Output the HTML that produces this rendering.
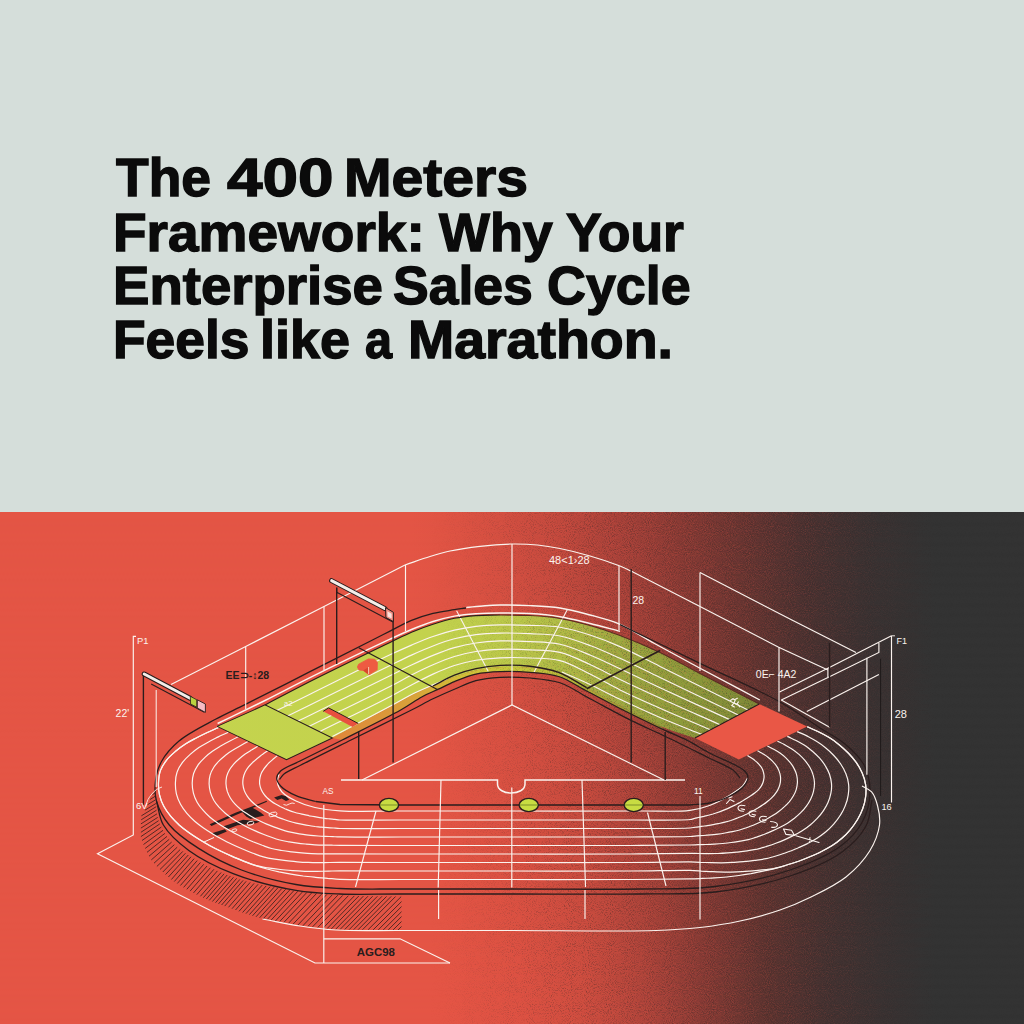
<!DOCTYPE html>
<html>
<head>
<meta charset="utf-8">
<title>The 400 Meters Framework</title>
<style>
html,body{margin:0;padding:0;}
body{width:1024px;height:1024px;overflow:hidden;background:#d5deda;font-family:"Liberation Sans",sans-serif;position:relative;}
.top{position:absolute;left:0;top:0;width:1024px;height:512px;background:#d5deda;}
h1{position:absolute;left:0;top:0;margin:0;font-weight:bold;font-size:54.0px;line-height:54.0px;color:#0b0b0b;white-space:nowrap;-webkit-text-stroke:1.4px #0b0b0b;}
h1 span{position:absolute;display:block;transform-origin:0 0;}
.art{position:absolute;left:0;top:512px;width:1024px;height:512px;display:block;}
.art text{font-family:"Liberation Sans",sans-serif;}
</style>
</head>
<body>
<div class="top">
<h1>
<span style="left:115.5px;top:150.3px;transform:scaleX(0.9895)">The</span>
<span style="left:227.2px;top:150.3px;transform:scaleX(1.1807)">400</span>
<span style="left:344.33px;top:150.3px;transform:scaleX(1.0562)">Meters</span>
<span style="left:112.94px;top:204.6px;transform:scaleX(1.0185)">Framework:</span>
<span style="left:438.5px;top:204.6px;transform:scaleX(0.9983)">Why</span>
<span style="left:566.3px;top:204.6px;transform:scaleX(0.9908)">Your</span>
<span style="left:112.97px;top:258.3px;transform:scaleX(1.0103)">Enterprise</span>
<span style="left:393.41px;top:258.3px;transform:scaleX(0.9913)">Sales</span>
<span style="left:546.61px;top:258.3px;transform:scaleX(0.9972)">Cycle</span>
<span style="left:112.64px;top:312.2px;transform:scaleX(0.988)">Feels</span>
<span style="left:260.3px;top:312.2px;transform:scaleX(0.9988)">like</span>
<span style="left:364.7px;top:312.2px;transform:scaleX(0.9)">a</span>
<span style="left:407.52px;top:312.2px;transform:scaleX(1.027)">Marathon.</span>
</h1>
</div>
<svg class="art" width="1024" height="512" viewBox="0 512 1024 512">
<defs>
<linearGradient id="bg" gradientUnits="userSpaceOnUse" x1="0" y1="0" x2="1024" y2="0">
<stop offset="0.0000" stop-color="#e45545"/>
<stop offset="0.4004" stop-color="#e45545"/>
<stop offset="0.4316" stop-color="#e05444"/>
<stop offset="0.4883" stop-color="#d55042"/>
<stop offset="0.5449" stop-color="#c44a3e"/>
<stop offset="0.6025" stop-color="#a8423a"/>
<stop offset="0.6602" stop-color="#8a3b35"/>
<stop offset="0.7207" stop-color="#6b3632"/>
<stop offset="0.7832" stop-color="#4c3231"/>
<stop offset="0.8477" stop-color="#3a3232"/>
<stop offset="0.9131" stop-color="#333333"/>
<stop offset="1.0000" stop-color="#333333"/>
</linearGradient>
<linearGradient id="bg2" gradientUnits="userSpaceOnUse" x1="0" y1="0" x2="1024" y2="0">
<stop offset="0.0000" stop-color="#e45545"/>
<stop offset="0.4395" stop-color="#e45545"/>
<stop offset="0.5098" stop-color="#dd5243"/>
<stop offset="0.5693" stop-color="#cf4e40"/>
<stop offset="0.6289" stop-color="#b0453b"/>
<stop offset="0.6885" stop-color="#863b35"/>
<stop offset="0.7480" stop-color="#5d3430"/>
<stop offset="0.8076" stop-color="#443231"/>
<stop offset="0.8672" stop-color="#383232"/>
<stop offset="0.9130" stop-color="#333333"/>
<stop offset="1.0000" stop-color="#333333"/>
</linearGradient>
<linearGradient id="vm" gradientUnits="userSpaceOnUse" x1="0" y1="512" x2="0" y2="1024">
<stop offset="0" stop-color="#000"/><stop offset="1" stop-color="#fff"/>
</linearGradient>
<mask id="vmask" maskUnits="userSpaceOnUse" x="0" y="511" width="1024" height="513"><rect x="0" y="511" width="1024" height="513" fill="url(#vm)"/></mask>
<linearGradient id="gg" gradientUnits="userSpaceOnUse" x1="0" y1="0" x2="1024" y2="0">
<stop offset="0" stop-color="#c5d54e"/>
<stop offset="0.42" stop-color="#c3d24d"/>
<stop offset="0.5" stop-color="#bbca4a"/>
<stop offset="0.55" stop-color="#b0bf46"/>
<stop offset="0.61" stop-color="#9cab40"/>
<stop offset="0.68" stop-color="#8b9a3a"/>
<stop offset="0.745" stop-color="#7a8937"/>
</linearGradient>
<linearGradient id="og" gradientUnits="userSpaceOnUse" x1="0" y1="0" x2="1024" y2="0">
<stop offset="0.32" stop-color="#e0843a"/>
<stop offset="0.40" stop-color="#d9a03a"/>
<stop offset="0.45" stop-color="#d2c038"/>
<stop offset="0.5" stop-color="#c6cc3c"/>
<stop offset="0.56" stop-color="#b4bb3a"/>
<stop offset="0.64" stop-color="#8a8f30"/>
<stop offset="0.7" stop-color="#6f6a2a"/>
</linearGradient>
<filter id="grainD" x="0" y="0" width="100%" height="100%" color-interpolation-filters="sRGB">
<feTurbulence type="fractalNoise" baseFrequency="1.05" numOctaves="2" seed="7"/>
<feColorMatrix type="matrix" values="0 0 0 0 0.16  0 0 0 0 0.13  0 0 0 0 0.13  1.05 0 0 0 -0.525"/>
</filter>
<filter id="grainL" x="0" y="0" width="100%" height="100%" color-interpolation-filters="sRGB">
<feTurbulence type="fractalNoise" baseFrequency="1.05" numOctaves="2" seed="7"/>
<feColorMatrix type="matrix" values="0 0 0 0 0.9  0 0 0 0 0.33  0 0 0 0 0.27  -1.05 0 0 0 0.525"/>
</filter>
<linearGradient id="gmg" gradientUnits="userSpaceOnUse" x1="0" y1="0" x2="1024" y2="0">
<stop offset="0.42" stop-color="#000"/><stop offset="0.56" stop-color="#fff"/><stop offset="0.8" stop-color="#fff"/><stop offset="0.93" stop-color="#222"/><stop offset="1" stop-color="#111"/>
</linearGradient>
<linearGradient id="gml" gradientUnits="userSpaceOnUse" x1="0" y1="0" x2="1024" y2="0">
<stop offset="0.45" stop-color="#000"/><stop offset="0.6" stop-color="#fff"/><stop offset="0.78" stop-color="#888"/><stop offset="0.9" stop-color="#000"/>
</linearGradient>
<mask id="gm" maskUnits="userSpaceOnUse" x="0" y="511" width="1024" height="513"><rect x="0" y="511" width="1024" height="513" fill="url(#gmg)"/></mask>
<mask id="gm2" maskUnits="userSpaceOnUse" x="0" y="511" width="1024" height="513"><rect x="0" y="511" width="1024" height="513" fill="url(#gml)"/></mask>
</defs>
<rect x="0" y="511" width="1024" height="513" fill="url(#bg)"/>
<rect x="0" y="511" width="1024" height="513" fill="url(#bg2)" mask="url(#vmask)"/>
<clipPath id="hc"><rect x="100" y="780" width="301.5" height="160"/></clipPath>
<path d="M155.2 793.0 L152.6 794.6 M155.3 796.2 L150.0 799.5 M155.6 799.8 L147.4 804.8 M155.9 803.5 L144.9 810.2 M156.2 806.7 L141.4 815.8 M156.5 810.2 L141.2 819.8 M157.0 813.8 L140.9 823.9 M157.7 817.4 L140.9 828.1 M158.6 820.7 L140.9 832.3 M159.8 823.9 L140.9 836.6 M161.3 827.1 L142.0 840.5 M163.0 830.3 L143.5 844.5 M164.9 833.4 L145.2 848.4 M167.0 836.4 L147.0 852.3 M169.2 839.3 L149.0 856.2 M171.6 842.1 L151.3 859.9 M174.3 844.7 L154.0 863.2 M177.2 847.2 L156.9 866.4 M180.2 849.5 L160.0 869.5 M182.8 851.4 L162.8 872.0 M185.5 853.2 L165.6 874.5 M188.3 855.0 L168.4 877.0 M191.0 856.8 L171.4 879.5 M194.1 858.7 L174.3 881.5 M197.2 860.6 L177.3 883.5 M200.4 862.5 L180.4 885.5 M203.7 864.3 L183.6 887.4 M207.0 866.0 L186.8 889.3 M210.4 867.7 L190.1 891.1 M213.9 869.3 L193.5 892.9 M217.4 870.9 L196.8 894.6 M221.1 872.5 L200.4 896.3 M224.1 873.8 L203.3 897.7 M227.2 875.0 L206.3 899.0 M230.3 876.1 L209.3 900.3 M233.5 877.3 L212.4 901.5 M236.7 878.3 L215.5 902.7 M239.9 879.4 L218.5 903.9 M243.1 880.4 L221.6 905.0 M246.2 881.3 L224.7 906.1 M250.2 882.4 L228.5 907.3 M254.1 883.4 L232.0 908.7 M258.1 884.3 L235.5 910.0 M262.2 885.1 L239.0 911.3 M266.2 885.9 L242.6 912.5 M270.2 886.6 L246.0 913.6 M274.1 887.2 L249.4 914.6 M277.8 887.9 L252.5 915.8 M281.7 888.6 L256.0 916.8 M285.6 889.3 L259.6 917.8 M289.7 890.0 L263.3 918.7 M293.8 890.7 L267.2 919.5 M297.8 891.3 L271.0 920.2 M302.5 891.9 L275.4 921.0 M306.9 892.4 L279.5 921.7 M311.6 893.0 L283.8 922.5 M316.5 893.5 L288.4 923.4 M321.7 894.0 L293.0 924.2 M326.9 894.4 L297.8 925.1 M332.3 894.8 L302.8 925.8 M337.8 895.2 L307.9 926.4 M342.7 895.4 L312.5 926.9 M348.4 895.7 L317.7 927.5 M354.3 895.9 L323.1 928.1 M358.8 896.0 L327.2 928.5 M363.4 896.1 L331.3 929.0 M368.0 896.2 L335.5 929.4 M372.7 896.2 L340.0 929.5 M377.4 896.3 L344.6 929.6 M382.0 896.3 L349.2 929.6 M386.6 896.4 L353.7 929.6 M391.2 896.4 L358.1 929.7 M395.6 896.5 L362.5 929.7 M401.3 896.5 L368.1 929.7 M406.5 896.6 L373.2 929.8 M411.5 896.6 L378.3 929.8 M416.6 896.6 L383.3 929.9 M421.5 896.6 L388.2 929.9 M426.5 896.6 L393.1 929.9 M431.4 896.6 L398.0 930.0 M436.4 896.5 L402.9 930.0 M441.3 896.5 L407.8 930.0 M446.3 896.5 L412.8 930.0" stroke="#33201e" stroke-width="0.82" fill="none" clip-path="url(#hc)"/>
<path d="M265.0 704.9 C280.0 697.1 292.8 690.2 310.0 681.5 C332.8 670.0 371.8 651.2 390.0 642.4 C399.4 637.9 404.3 635.3 411.5 632.2 C418.6 629.2 425.8 626.5 433.0 624.2 C440.1 621.9 447.2 619.7 454.4 618.3 C461.5 616.9 468.5 616.2 475.9 615.6 C483.7 615.0 491.5 615.0 500.0 615.0 C509.5 615.0 520.0 615.0 530.0 615.6 C540.0 616.2 550.1 616.8 560.0 618.4 C570.1 620.1 580.1 622.7 590.0 625.5 C600.1 628.3 609.4 631.4 620.0 635.4 C632.5 640.1 646.8 646.2 660.0 652.5 C673.5 658.9 685.3 665.9 700.0 673.5 C717.8 682.8 739.5 693.8 759.3 704.0 L694.9 738.0 C683.3 734.0 671.9 731.0 660.0 726.0 C646.9 720.5 632.7 712.6 620.0 706.0 C608.3 699.9 597.3 693.7 586.7 688.0 C576.9 682.8 568.3 676.4 558.6 673.0 C549.4 669.8 539.7 668.8 530.0 667.8 C520.2 666.8 509.4 666.8 500.0 667.3 C491.5 667.8 483.6 668.8 475.9 670.5 C468.5 672.1 461.5 674.5 454.4 677.0 C447.2 679.5 440.1 682.4 433.0 685.5 C425.8 688.6 418.6 691.9 411.5 695.5 C404.3 699.1 398.9 702.2 390.0 707.0 C375.4 714.8 350.6 728.8 332.4 738.0 C316.3 746.1 301.8 752.4 286.5 759.6 L217.1 726.4 Z" fill="url(#gg)"/>
<path d="M332.4 738.0 C351.6 727.7 375.4 714.8 390.0 707.0 C398.9 702.2 404.3 699.1 411.5 695.5 C418.6 691.9 425.8 688.6 433.0 685.5 C440.1 682.4 447.2 679.5 454.4 677.0 C461.5 674.5 468.5 672.1 475.9 670.5 C483.6 668.8 491.5 667.8 500.0 667.3 C509.4 666.8 520.2 666.8 530.0 667.8 C539.7 668.8 549.4 669.8 558.6 673.0 C568.3 676.4 576.9 682.8 586.7 688.0 C597.3 693.7 608.3 699.9 620.0 706.0 C632.7 712.6 646.7 719.3 660.0 726.0 L665.0 730.4 C653.7 724.9 639.2 718.0 631.0 714.0 C626.3 711.7 624.6 710.9 620.0 708.5 C611.9 704.3 597.3 696.5 586.7 691.0 C576.9 685.9 568.3 679.6 558.6 676.5 C549.3 673.5 539.7 673.1 530.0 672.3 C520.1 671.5 509.4 671.2 500.0 671.6 C491.5 671.9 483.6 672.4 475.9 674.1 C468.4 675.8 461.0 678.9 454.4 681.6 C448.6 684.0 443.7 686.7 438.3 689.2 C432.9 691.7 427.9 693.6 422.2 696.7 C415.4 700.3 409.8 704.9 400.7 710.0 C386.1 718.2 361.7 730.0 342.2 740.0 Z" fill="url(#og)"/>
<g mask="url(#gm)"><rect x="420" y="511" width="604" height="513" filter="url(#grainD)"/></g>
<g mask="url(#gm2)"><rect x="420" y="511" width="604" height="513" filter="url(#grainL)"/></g>
<path d="M694.9 738 L759.3 704 L807.2 726.4 L738.8 759.6Z" fill="#e95746"/>
<path d="M276.6 710.6 C287.7 705.1 296.5 700.9 310.0 694.2 C330.9 683.9 371.7 663.4 390.0 654.8 C399.4 650.4 404.3 648.2 411.5 645.1 C418.6 642.1 425.8 639.0 433.0 636.5 C440.1 634.0 447.2 631.8 454.4 630.1 C461.5 628.4 468.5 627.2 475.9 626.3 C483.7 625.4 491.5 625.1 500.0 624.9 C509.4 624.7 520.0 624.9 530.0 625.3 C540.0 625.7 550.1 625.6 560.0 627.2 C570.1 628.8 580.1 631.8 590.0 635.0 C600.1 638.3 609.4 641.9 620.0 646.6 C632.5 652.1 644.1 658.5 660.0 666.4 C683.6 678.1 718.7 695.5 748.0 710.0" fill="none" stroke="#fbf3ee" stroke-width="1.16" />
<path d="M287.6 716.0 C295.1 712.3 300.2 709.8 310.0 705.0 C328.5 695.9 371.8 674.4 390.0 665.5 C399.4 660.9 404.3 658.4 411.5 655.1 C418.6 651.9 425.8 648.7 433.0 646.0 C440.1 643.3 447.2 640.7 454.4 638.8 C461.5 636.9 468.5 635.5 475.9 634.6 C483.7 633.6 491.5 633.3 500.0 633.1 C509.4 632.9 520.0 633.2 530.0 633.7 C540.0 634.2 550.1 634.1 560.0 636.0 C570.1 638.0 580.1 641.8 590.0 645.5 C600.1 649.2 609.3 653.5 620.0 658.3 C632.4 663.9 644.4 670.0 660.0 677.5 C681.8 687.9 712.2 702.6 738.3 715.1" fill="none" stroke="#fbf3ee" stroke-width="1.16" />
<path d="M298.0 721.1 C302.0 719.1 304.2 718.0 310.0 715.2 C324.9 707.9 371.8 684.8 390.0 675.8 C399.4 671.1 404.3 668.5 411.5 665.1 C418.6 661.7 425.8 658.3 433.0 655.4 C440.1 652.5 447.2 649.7 454.4 647.6 C461.5 645.6 468.5 644.1 475.9 643.0 C483.7 641.8 491.5 641.2 500.0 640.9 C509.4 640.6 520.0 641.1 530.0 641.6 C540.0 642.1 550.1 642.0 560.0 644.2 C570.1 646.4 580.1 650.9 590.0 655.0 C600.1 659.1 609.3 663.8 620.0 668.8 C632.4 674.6 644.8 680.7 660.0 687.8 C680.0 697.1 706.5 709.0 729.7 719.6" fill="none" stroke="#fbf3ee" stroke-width="1.16" />
<path d="M308.9 726.5 C335.9 713.2 371.7 695.9 390.0 686.5 C399.5 681.6 404.3 678.6 411.5 675.0 C418.6 671.4 425.8 667.9 433.0 664.8 C440.1 661.7 447.2 658.7 454.4 656.5 C461.5 654.3 468.5 652.7 475.9 651.5 C483.7 650.2 491.5 649.6 500.0 649.3 C509.4 648.9 520.0 649.3 530.0 649.8 C540.0 650.3 550.2 650.0 560.0 652.4 C570.2 654.8 580.1 660.0 590.0 664.5 C600.1 669.0 609.2 674.2 620.0 679.4 C632.3 685.3 645.3 691.3 660.0 698.0 C677.9 706.2 700.0 715.8 720.0 724.7" fill="none" stroke="#fbf3ee" stroke-width="1.16" />
<path d="M319.6 731.7 C343.1 720.0 373.4 705.4 390.0 696.7 C399.3 691.8 404.3 688.7 411.5 684.9 C418.6 681.2 425.8 677.4 433.0 674.1 C440.1 670.9 447.2 667.8 454.4 665.5 C461.5 663.2 468.5 661.5 475.9 660.2 C483.7 658.9 491.5 658.2 500.0 657.8 C509.4 657.4 520.0 657.5 530.0 658.0 C540.0 658.5 550.2 658.1 560.0 660.6 C570.2 663.2 580.1 669.2 590.0 674.0 C600.1 678.9 609.2 684.6 620.0 689.9 C632.3 696.0 645.9 701.9 660.0 708.2 C675.8 715.2 693.6 722.6 710.4 729.8" fill="none" stroke="#fbf3ee" stroke-width="1.16" />
<path d="M562.0 672.0 C571.3 676.2 580.5 680.1 590.0 684.5 C599.9 689.1 609.2 694.2 620.0 699.3 C632.3 705.1 646.5 711.7 660.0 717.5 C673.7 723.4 687.9 728.8 701.8 734.4" fill="none" stroke="#fbf3ee" stroke-width="1.16" />
<path d="M332.4 736.5 C351.6 726.4 375.5 714.1 390.0 706.3 C398.9 701.5 404.3 698.1 411.5 694.5 C418.6 691.0 426.6 687.7 433.0 684.9 C438.2 682.7 442.3 681.0 447.0 679.0" fill="none" stroke="#fbf3ee" stroke-width="1.16" />
<path d="M466.3 607.5 C472.5 606.9 479.1 606.1 485.0 605.7 C490.3 605.3 494.1 605.1 500.0 605.0 C508.3 604.9 520.0 605.1 530.0 605.6 C540.0 606.1 550.1 606.5 560.0 608.0 C570.1 609.6 580.2 612.4 590.0 615.0 C599.6 617.6 608.6 619.6 618.4 623.7 C630.0 628.6 641.8 636.6 654.5 643.5 C668.7 651.2 683.5 659.3 699.6 668.0 C718.2 678.0 739.7 689.3 759.8 700.0" fill="none" stroke="#fbf3ee" stroke-width="1.39" />
<path d="M217.6 723.5 C233.4 715.8 249.4 708.2 265.0 700.5 C280.2 692.9 292.8 686.1 310.0 677.6 C332.8 666.3 371.8 647.7 390.0 639.2 C399.4 634.8 404.3 632.5 411.5 629.5 C418.6 626.6 425.8 623.7 433.0 621.5 C440.1 619.3 447.2 617.4 454.4 616.1 C461.5 614.8 468.5 614.2 475.9 613.7 C483.7 613.2 491.5 613.0 500.0 613.0 C509.5 613.0 520.0 613.0 530.0 613.6 C540.0 614.2 550.0 615.1 560.0 616.7 C570.0 618.4 580.0 621.1 590.0 623.5 C600.0 625.9 610.0 628.7 620.0 631.3" fill="none" stroke="#fbf3ee" stroke-width="1.46" />
<path d="M456.6 610.7 L488.3 671.4" fill="none" stroke="#fbf3ee" stroke-width="1.08" />
<path d="M567.4 609.6 L534.0 672.3" fill="none" stroke="#fbf3ee" stroke-width="1.08" />
<path d="M209.7 824.2 L235.4 812.8 L266.6 800.8 L267 801.8 L236 815 L211.5 826Z" fill="#2a1d1d"/>
<path d="M241.9 811.7 L251.6 807.2 L260.2 812.2 L264.4 815.6 L250.5 818.9 L246.2 816.5Z" fill="#2a1d1d"/>
<path d="M223.6 826.2 L243 819.7 L260.2 821.4 L255.9 823.2 L237.6 825.3 L227.9 829Z" fill="#2a1d1d"/>
<path d="M211.8 833.2 L224.7 829.3 L226.9 831.6 L216.1 836Z" fill="#2a1d1d"/>
<path d="M274.1 797.6 L281.6 795 L286 796.2 L289.2 799.8 L286 801 L281.6 798.4 L277.3 800Z" fill="#2a1d1d"/>
<path d="M277.5 755.5 C276.2 756.6 274.9 757.7 273.6 758.8 C272.3 759.9 270.9 761.0 269.7 762.2 C268.5 763.4 267.3 764.7 266.2 766.0 C265.1 767.3 264.0 768.6 263.1 770.1 C262.1 771.5 261.3 773.0 260.8 774.6 C260.2 776.3 259.9 778.0 259.7 779.7 C259.5 781.4 259.5 783.1 259.8 784.8 C260.0 786.5 260.6 788.2 261.3 789.7 C262.0 791.3 262.9 792.7 263.9 794.1 C264.9 795.5 266.1 796.8 267.3 798.0 C268.5 799.2 269.9 800.2 271.3 801.2 C272.6 802.3 274.1 803.2 275.6 804.0 C277.1 804.9 278.6 805.7 280.1 806.5 C281.6 807.2 283.2 808.0 284.8 808.7 C286.3 809.3 287.9 810.0 289.5 810.6 C291.2 811.2 292.8 811.7 294.4 812.2 C296.1 812.7 297.7 813.1 299.4 813.5 C301.1 813.9 302.7 814.3 304.4 814.7 C306.1 815.1 307.8 815.4 309.4 815.8 C311.1 816.1 312.8 816.4 314.5 816.7 C316.2 817.1 317.9 817.4 319.6 817.6 C321.2 817.9 323.0 818.1 324.7 818.3 C326.4 818.6 328.1 818.7 329.8 818.9 C331.5 819.1 333.2 819.2 334.9 819.4 C336.6 819.6 337.4 819.9 340.0 820.0 C349.0 820.5 376.9 820.0 400.0 820.0 C431.6 820.0 474.2 820.0 512.0 820.0 C550.8 820.0 597.3 820.1 630.0 820.0 C653.4 819.9 681.4 820.6 690.0 819.5 C692.4 819.2 693.1 818.7 694.6 818.4 C696.1 818.0 697.7 817.7 699.2 817.3 C700.7 817.0 702.3 816.6 703.8 816.3 C705.4 815.9 706.9 815.6 708.4 815.2 C710.0 814.8 711.5 814.4 713.0 814.0 C714.5 813.5 716.0 813.0 717.5 812.5 C719.0 812.0 720.5 811.5 721.9 810.9 C723.4 810.3 724.9 809.7 726.3 809.1 C727.8 808.5 729.2 807.8 730.6 807.1 C732.0 806.5 733.5 805.8 734.9 805.1 C736.3 804.4 737.7 803.6 739.1 802.9 C740.4 802.1 741.8 801.3 743.2 800.5 C744.5 799.7 745.9 798.9 747.2 798.1 C748.5 797.2 749.9 796.4 751.2 795.5 C752.5 794.6 753.8 793.7 755.0 792.8 C756.3 791.8 757.5 790.8 758.6 789.6 C759.7 788.5 760.6 787.2 761.4 785.9 C762.2 784.5 762.9 783.0 763.3 781.5 C763.7 780.0 764.0 778.4 764.1 776.9 C764.1 775.3 763.8 773.7 763.4 772.2 C763.0 770.7 762.5 769.2 761.7 767.8 C760.9 766.5 759.9 765.3 758.8 764.1 C757.7 762.9 756.6 761.9 755.3 760.9 C754.1 759.9 752.8 759.0 751.5 758.1 C750.2 757.2 748.8 756.4 747.5 755.6" fill="none" stroke="#fbf3ee" stroke-width="1.19" />
<path d="M267.7 750.8 C266.0 752.0 264.2 753.2 262.5 754.4 C260.8 755.7 259.1 756.9 257.5 758.2 C255.8 759.5 254.3 760.9 252.8 762.3 C251.3 763.8 249.8 765.3 248.5 766.9 C247.2 768.6 246.0 770.3 245.1 772.2 C244.2 774.1 243.5 776.1 243.2 778.1 C242.8 780.2 242.7 782.4 242.9 784.4 C243.1 786.5 243.6 788.6 244.3 790.6 C245.0 792.5 246.1 794.4 247.2 796.1 C248.4 797.9 249.8 799.5 251.2 801.0 C252.7 802.6 254.3 803.9 256.0 805.2 C257.6 806.5 259.4 807.7 261.2 808.8 C263.0 809.9 264.8 811.0 266.7 812.0 C268.5 813.0 270.4 813.9 272.3 814.8 C274.2 815.7 276.2 816.6 278.1 817.4 C280.1 818.1 282.1 818.9 284.1 819.5 C286.1 820.2 288.1 820.9 290.1 821.5 C292.1 822.1 294.1 822.6 296.2 823.1 C298.3 823.6 300.4 824.0 302.5 824.4 C304.6 824.8 306.7 825.2 308.8 825.5 C310.9 825.9 313.0 826.2 315.1 826.5 C317.2 826.7 319.3 827.0 321.4 827.2 C323.5 827.4 325.5 827.5 327.6 827.6 C329.7 827.8 331.8 827.9 333.8 828.0 C335.9 828.2 336.9 828.4 340.0 828.5 C349.7 828.8 376.9 828.5 400.0 828.5 C431.6 828.5 474.2 828.5 512.0 828.5 C550.8 828.5 597.3 828.6 630.0 828.5 C653.4 828.4 680.6 828.7 690.0 828.0 C692.9 827.8 693.8 827.4 695.7 827.2 C697.6 826.9 699.6 826.7 701.5 826.4 C703.4 826.1 705.4 825.9 707.3 825.6 C709.3 825.3 711.2 825.0 713.2 824.6 C715.2 824.3 717.1 823.9 719.1 823.5 C721.0 823.1 723.0 822.6 724.9 822.1 C726.9 821.6 728.9 821.1 730.8 820.5 C732.7 819.8 734.5 819.1 736.4 818.4 C738.2 817.7 740.1 816.9 741.9 816.2 C743.8 815.4 745.6 814.5 747.4 813.7 C749.2 812.8 751.0 811.9 752.7 811.0 C754.5 810.1 756.2 809.1 757.9 808.1 C759.6 807.0 761.3 805.9 762.9 804.8 C764.6 803.7 766.2 802.5 767.7 801.2 C769.2 800.0 770.7 798.7 772.1 797.3 C773.5 795.9 774.8 794.4 775.9 792.8 C777.1 791.2 778.1 789.5 778.8 787.7 C779.5 785.9 780.1 784.0 780.4 782.1 C780.6 780.2 780.7 778.1 780.4 776.2 C780.2 774.3 779.6 772.4 778.9 770.6 C778.2 768.7 777.2 767.0 776.1 765.4 C775.0 763.7 773.6 762.3 772.2 760.9 C770.8 759.5 769.2 758.2 767.7 757.0 C766.1 755.8 764.4 754.8 762.7 753.7 C761.0 752.7 759.2 751.8 757.5 750.8" fill="none" stroke="#fbf3ee" stroke-width="1.19" />
<path d="M257.8 746.2 C255.7 747.5 253.6 748.7 251.5 750.1 C249.4 751.4 247.2 752.7 245.2 754.1 C243.2 755.6 241.2 757.1 239.3 758.7 C237.4 760.3 235.5 762.0 233.9 763.8 C232.3 765.7 230.7 767.6 229.5 769.7 C228.2 771.9 227.2 774.2 226.6 776.6 C226.1 779.0 225.9 781.6 226.0 784.1 C226.1 786.5 226.6 789.0 227.3 791.4 C228.1 793.8 229.2 796.1 230.5 798.2 C231.8 800.3 233.4 802.3 235.1 804.1 C236.8 806.0 238.7 807.6 240.6 809.2 C242.6 810.8 244.7 812.2 246.8 813.6 C248.8 815.0 251.0 816.3 253.2 817.5 C255.4 818.7 257.6 819.9 259.9 821.0 C262.1 822.1 264.4 823.2 266.7 824.1 C269.0 825.1 271.3 826.0 273.7 826.9 C276.0 827.8 278.4 828.6 280.8 829.4 C283.2 830.2 285.5 831.0 288.0 831.6 C290.5 832.2 293.0 832.7 295.6 833.1 C298.1 833.6 300.6 834.0 303.1 834.3 C305.6 834.7 308.1 835.0 310.6 835.3 C313.1 835.6 315.6 835.8 318.1 836.0 C320.6 836.2 323.0 836.3 325.5 836.4 C327.9 836.5 330.4 836.5 332.8 836.6 C335.2 836.7 336.4 836.9 340.0 836.9 C350.3 837.2 376.9 837.0 400.0 837.0 C431.6 837.0 474.2 837.0 512.0 837.0 C550.8 837.0 597.3 837.1 630.0 837.0 C653.4 836.9 679.9 836.9 690.0 836.5 C693.4 836.3 694.5 836.1 696.8 835.9 C699.1 835.8 701.5 835.6 703.8 835.5 C706.1 835.3 708.5 835.1 710.8 834.9 C713.2 834.7 715.6 834.4 718.0 834.1 C720.4 833.8 722.8 833.4 725.1 833.0 C727.6 832.6 730.0 832.2 732.4 831.7 C734.8 831.2 737.2 830.7 739.6 830.0 C741.9 829.4 744.2 828.5 746.5 827.7 C748.7 826.9 751.0 826.1 753.2 825.2 C755.5 824.3 757.7 823.3 759.9 822.3 C762.1 821.3 764.2 820.3 766.4 819.2 C768.5 818.0 770.7 816.9 772.7 815.6 C774.8 814.3 776.8 813.0 778.7 811.5 C780.6 810.1 782.5 808.6 784.2 806.9 C786.0 805.3 787.6 803.6 789.2 801.8 C790.7 800.0 792.1 798.1 793.3 796.0 C794.5 794.0 795.5 791.8 796.2 789.6 C796.8 787.3 797.3 784.9 797.4 782.6 C797.5 780.3 797.3 777.9 796.8 775.6 C796.3 773.3 795.4 771.0 794.3 768.9 C793.3 766.8 792.0 764.8 790.5 762.9 C789.1 761.0 787.3 759.3 785.6 757.6 C783.8 756.0 781.9 754.5 780.0 753.1 C778.0 751.7 775.9 750.5 773.8 749.3 C771.7 748.1 769.5 747.1 767.4 746.0" fill="none" stroke="#fbf3ee" stroke-width="1.19" />
<path d="M248.0 741.5 C245.5 742.9 242.9 744.3 240.4 745.7 C237.9 747.1 235.4 748.5 233.0 750.1 C230.5 751.6 228.1 753.2 225.8 755.0 C223.6 756.8 221.3 758.6 219.3 760.7 C217.3 762.7 215.3 764.9 213.8 767.3 C212.3 769.7 210.9 772.3 210.1 775.1 C209.3 777.8 209.1 780.8 209.1 783.7 C209.2 786.5 209.6 789.5 210.4 792.3 C211.2 795.0 212.4 797.7 213.8 800.2 C215.3 802.7 217.1 805.0 219.0 807.2 C221.0 809.3 223.1 811.3 225.3 813.2 C227.5 815.1 229.9 816.8 232.3 818.4 C234.7 820.0 237.2 821.5 239.7 823.0 C242.3 824.5 244.8 825.9 247.4 827.2 C250.0 828.5 252.6 829.7 255.3 830.9 C257.9 832.1 260.6 833.2 263.3 834.3 C266.0 835.4 268.8 836.4 271.5 837.3 C274.2 838.3 277.0 839.3 279.8 840.0 C282.7 840.8 285.7 841.3 288.6 841.8 C291.6 842.3 294.5 842.8 297.4 843.1 C300.3 843.5 303.3 843.8 306.2 844.1 C309.1 844.4 311.9 844.6 314.8 844.8 C317.7 845.0 320.5 845.1 323.3 845.1 C326.1 845.2 329.0 845.2 331.7 845.2 C334.5 845.3 336.0 845.4 340.0 845.4 C350.8 845.5 376.9 845.5 400.0 845.5 C431.6 845.5 474.2 845.5 512.0 845.5 C550.8 845.5 597.3 845.6 630.0 845.5 C653.4 845.4 679.3 845.2 690.0 845.0 C693.9 844.9 695.3 844.8 698.0 844.7 C700.6 844.6 703.4 844.6 706.1 844.5 C708.8 844.5 711.6 844.4 714.3 844.2 C717.1 844.0 719.9 843.8 722.7 843.5 C725.6 843.2 728.4 842.9 731.2 842.5 C734.1 842.2 736.9 841.7 739.8 841.2 C742.7 840.7 745.6 840.3 748.4 839.6 C751.2 838.9 753.9 837.9 756.5 837.1 C759.2 836.2 761.9 835.2 764.5 834.2 C767.2 833.2 769.8 832.1 772.4 830.9 C775.0 829.8 777.5 828.6 780.1 827.3 C782.6 826.0 785.1 824.7 787.5 823.2 C789.9 821.7 792.2 820.0 794.4 818.3 C796.6 816.5 798.7 814.7 800.7 812.7 C802.7 810.7 804.6 808.5 806.2 806.3 C807.9 804.1 809.4 801.7 810.6 799.2 C811.9 796.7 812.9 794.1 813.5 791.4 C814.2 788.7 814.5 785.9 814.5 783.1 C814.4 780.4 813.9 777.6 813.1 774.9 C812.4 772.3 811.2 769.7 809.8 767.3 C808.4 764.8 806.7 762.6 804.9 760.4 C803.1 758.3 801.1 756.3 799.0 754.4 C796.9 752.6 794.6 750.8 792.3 749.2 C789.9 747.6 787.4 746.3 785.0 744.9 C782.5 743.6 779.9 742.4 777.4 741.2" fill="none" stroke="#fbf3ee" stroke-width="1.19" />
<path d="M238.2 736.8 C235.2 738.3 232.3 739.8 229.4 741.3 C226.5 742.8 223.5 744.4 220.7 746.0 C217.9 747.7 215.0 749.4 212.4 751.3 C209.7 753.2 207.1 755.3 204.7 757.6 C202.4 759.8 200.0 762.2 198.1 764.8 C196.3 767.5 194.6 770.5 193.6 773.5 C192.6 776.6 192.3 780.0 192.2 783.3 C192.2 786.6 192.6 789.9 193.4 793.1 C194.2 796.3 195.6 799.4 197.1 802.2 C198.7 805.1 200.8 807.7 203.0 810.2 C205.1 812.7 207.5 815.0 210.0 817.2 C212.5 819.4 215.2 821.3 217.9 823.2 C220.6 825.1 223.5 826.8 226.3 828.5 C229.1 830.2 232.0 831.8 235.0 833.4 C237.9 834.9 240.9 836.3 243.9 837.7 C246.9 839.1 249.9 840.4 253.0 841.7 C256.0 842.9 259.1 844.1 262.2 845.3 C265.3 846.4 268.4 847.6 271.6 848.5 C274.9 849.4 278.3 849.9 281.7 850.5 C285.0 851.1 288.4 851.5 291.7 851.9 C295.1 852.4 298.4 852.7 301.7 852.9 C305.0 853.2 308.3 853.5 311.5 853.6 C314.8 853.8 318.0 853.8 321.2 853.9 C324.4 853.9 327.5 853.9 330.7 853.9 C333.8 853.9 335.6 853.9 340.0 853.9 C351.3 853.9 376.9 854.0 400.0 854.0 C431.6 854.0 474.2 854.0 512.0 854.0 C550.8 854.0 597.3 854.2 630.0 854.0 C653.4 853.9 678.8 853.5 690.0 853.4 C694.4 853.4 696.0 853.5 699.1 853.5 C702.2 853.5 705.3 853.6 708.4 853.6 C711.5 853.6 714.7 853.6 717.9 853.5 C721.1 853.4 724.3 853.2 727.5 852.9 C730.8 852.7 734.0 852.4 737.3 852.1 C740.6 851.7 743.9 851.3 747.2 850.8 C750.6 850.3 754.0 849.9 757.3 849.2 C760.5 848.4 763.5 847.4 766.6 846.4 C769.7 845.4 772.8 844.4 775.8 843.2 C778.9 842.1 781.9 840.9 784.9 839.6 C787.9 838.3 790.8 836.9 793.7 835.4 C796.6 834.0 799.5 832.4 802.2 830.7 C805.0 829.0 807.7 827.1 810.2 825.0 C812.6 823.0 815.0 820.7 817.2 818.4 C819.4 816.0 821.5 813.5 823.3 810.8 C825.1 808.2 826.7 805.4 828.0 802.4 C829.3 799.5 830.3 796.4 830.9 793.2 C831.5 790.1 831.8 786.8 831.5 783.6 C831.3 780.5 830.5 777.3 829.5 774.3 C828.4 771.3 826.9 768.3 825.2 765.6 C823.6 762.9 821.5 760.3 819.4 757.9 C817.2 755.5 814.8 753.3 812.4 751.2 C809.9 749.1 807.3 747.1 804.6 745.3 C801.9 743.6 799.0 742.0 796.1 740.5 C793.2 739.1 790.2 737.8 787.3 736.4" fill="none" stroke="#fbf3ee" stroke-width="1.19" />
<path d="M228.3 732.2 C225.0 733.8 221.6 735.3 218.3 736.9 C215.0 738.6 211.7 740.2 208.5 742.0 C205.2 743.8 202.0 745.6 198.9 747.6 C195.9 749.7 192.9 752.0 190.2 754.4 C187.4 756.9 184.7 759.5 182.5 762.4 C180.3 765.3 178.2 768.6 177.1 772.0 C175.9 775.4 175.5 779.3 175.4 782.9 C175.3 786.6 175.6 790.4 176.4 793.9 C177.3 797.5 178.7 801.0 180.5 804.3 C182.2 807.5 184.5 810.5 186.9 813.3 C189.3 816.1 191.9 818.7 194.7 821.2 C197.5 823.6 200.5 825.9 203.5 828.0 C206.5 830.1 209.7 832.1 212.8 834.0 C216.0 836.0 219.2 837.8 222.5 839.5 C225.8 841.3 229.1 842.9 232.4 844.5 C235.8 846.1 239.2 847.6 242.6 849.0 C246.0 850.5 249.4 851.9 252.9 853.2 C256.4 854.5 259.8 855.9 263.4 856.9 C267.0 857.9 271.0 858.6 274.7 859.2 C278.5 859.8 282.3 860.3 286.1 860.7 C289.8 861.2 293.5 861.5 297.2 861.8 C300.9 862.1 304.6 862.3 308.2 862.4 C311.9 862.6 315.5 862.6 319.1 862.6 C322.6 862.6 326.1 862.5 329.6 862.5 C333.1 862.4 335.1 862.4 340.0 862.4 C351.7 862.3 376.9 862.5 400.0 862.5 C431.6 862.5 474.2 862.5 512.0 862.5 C550.8 862.5 597.3 862.7 630.0 862.5 C653.4 862.4 678.3 861.8 690.0 861.9 C694.8 862.0 696.8 862.1 700.2 862.3 C703.7 862.4 707.2 862.6 710.7 862.7 C714.2 862.8 717.8 862.8 721.4 862.8 C725.0 862.7 728.6 862.6 732.3 862.4 C736.0 862.2 739.7 861.9 743.4 861.6 C747.1 861.3 750.9 860.9 754.7 860.4 C758.5 859.9 762.4 859.5 766.1 858.7 C769.7 857.9 773.2 856.8 776.7 855.7 C780.2 854.6 783.7 853.5 787.1 852.2 C790.6 851.0 794.0 849.6 797.4 848.2 C800.7 846.7 804.1 845.2 807.4 843.6 C810.6 841.9 813.9 840.2 817.0 838.2 C820.1 836.3 823.1 834.1 825.9 831.8 C828.7 829.4 831.3 826.8 833.7 824.1 C836.1 821.4 838.4 818.4 840.3 815.3 C842.3 812.3 844.0 809.0 845.3 805.6 C846.7 802.2 847.7 798.7 848.2 795.1 C848.8 791.5 849.0 787.8 848.6 784.2 C848.2 780.6 847.2 777.0 845.8 773.6 C844.5 770.2 842.7 767.0 840.7 764.0 C838.7 760.9 836.3 758.1 833.8 755.5 C831.3 752.8 828.6 750.3 825.8 748.0 C822.9 745.6 820.0 743.4 816.9 741.5 C813.8 739.5 810.5 737.8 807.3 736.1 C804.0 734.5 800.6 733.1 797.2 731.6" fill="none" stroke="#fbf3ee" stroke-width="1.19" />
<path d="M218.5 727.5 C214.8 729.2 211.0 730.8 207.3 732.5 C203.5 734.3 199.8 736.1 196.2 738.0 C192.6 739.9 188.9 741.7 185.4 744.0 C182.0 746.2 178.7 748.7 175.6 751.3 C172.5 754.0 169.3 756.7 166.8 759.9 C164.3 763.1 161.9 766.7 160.5 770.4 C159.1 774.2 158.7 778.5 158.5 782.5 C158.3 786.6 158.6 790.8 159.5 794.8 C160.4 798.7 161.9 802.7 163.8 806.3 C165.7 809.9 168.2 813.2 170.8 816.4 C173.4 819.5 176.4 822.4 179.4 825.2 C182.5 827.9 185.8 830.4 189.1 832.8 C192.4 835.2 195.9 837.4 199.4 839.5 C202.9 841.7 206.4 843.7 210.0 845.7 C213.7 847.7 217.3 849.5 221.0 851.3 C224.7 853.1 228.5 854.8 232.2 856.4 C236.0 858.1 239.8 859.6 243.6 861.1 C247.4 862.6 251.2 864.3 255.2 865.4 C259.2 866.5 263.6 867.2 267.8 867.9 C272.0 868.6 276.2 869.1 280.4 869.5 C284.5 870.0 288.7 870.3 292.8 870.6 C296.9 870.9 300.9 871.1 305.0 871.3 C309.0 871.4 312.9 871.4 316.9 871.4 C320.8 871.3 324.7 871.2 328.6 871.1 C332.4 871.0 334.7 870.9 340.0 870.8 C352.1 870.7 376.9 871.0 400.0 871.0 C431.6 871.0 474.2 871.0 512.0 871.0 C550.8 871.0 597.3 871.2 630.0 871.0 C653.4 870.9 677.9 870.1 690.0 870.4 C695.3 870.5 697.5 870.8 701.3 871.1 C705.2 871.3 709.0 871.6 712.9 871.7 C716.9 871.9 720.9 872.1 724.9 872.1 C728.9 872.1 733.0 872.0 737.0 871.8 C741.2 871.7 745.3 871.4 749.5 871.1 C753.7 870.8 757.9 870.4 762.1 869.9 C766.4 869.5 770.8 869.1 775.0 868.3 C779.0 867.5 782.9 866.2 786.8 865.0 C790.7 863.9 794.6 862.6 798.5 861.3 C802.3 859.9 806.1 858.4 809.9 856.8 C813.6 855.2 817.4 853.6 821.0 851.7 C824.7 849.9 828.3 848.0 831.8 845.8 C835.2 843.6 838.5 841.2 841.6 838.5 C844.7 835.9 847.6 832.9 850.2 829.8 C852.9 826.7 855.3 823.3 857.4 819.8 C859.4 816.3 861.3 812.6 862.7 808.8 C864.1 805.0 865.1 800.9 865.6 796.9 C866.1 792.9 866.2 788.7 865.6 784.7 C865.1 780.7 863.8 776.7 862.2 773.0 C860.6 769.2 858.5 765.6 856.2 762.3 C853.8 759.0 851.0 755.9 848.2 753.0 C845.4 750.1 842.3 747.3 839.1 744.7 C836.0 742.2 832.7 739.7 829.2 737.6 C825.7 735.4 822.1 733.6 818.4 731.8 C814.8 730.0 810.9 728.5 807.2 726.8" fill="none" stroke="#fbf3ee" stroke-width="1.19" />
<path d="M218.5 727.5 C214.8 729.2 211.0 730.8 207.3 732.5 C203.5 734.3 199.8 736.1 196.2 738.0 C192.6 739.9 188.9 741.7 185.4 744.0 C182.0 746.2 178.7 748.7 175.6 751.3 C172.5 754.0 169.3 756.7 166.8 759.9 C164.3 763.1 161.9 766.7 160.5 770.4 C159.1 774.2 158.7 778.5 158.5 782.5 C158.3 786.6 158.6 790.8 159.5 794.8 C160.4 798.7 161.9 802.7 163.8 806.3 C165.7 809.9 168.2 813.2 170.8 816.4 C173.4 819.5 176.4 822.4 179.4 825.2 C182.5 827.9 185.8 830.4 189.1 832.8 C192.4 835.2 195.9 837.4 199.4 839.5 C202.9 841.7 206.4 843.7 210.0 845.7 C213.7 847.7 217.3 849.5 221.0 851.3 C224.7 853.1 228.5 854.8 232.2 856.4 C236.0 858.1 239.8 859.6 243.6 861.1 C247.4 862.6 251.3 864.1 255.2 865.4 C259.0 866.7 263.0 867.9 266.9 869.0 C270.9 870.0 274.9 870.9 278.9 871.8 C282.9 872.6 287.0 873.4 291.0 874.1 C295.1 874.7 299.1 875.4 303.2 876.0 C307.3 876.5 311.4 876.9 315.4 877.3 C319.5 877.7 323.6 877.9 327.7 878.3 C331.8 878.6 334.4 879.1 340.0 879.3 C352.5 879.8 376.9 879.5 400.0 879.5 C431.6 879.6 474.2 879.5 512.0 879.5 C550.8 879.5 597.3 879.7 630.0 879.5 C653.4 879.4 677.6 879.2 690.0 878.9 C695.6 878.8 698.2 878.6 702.3 878.4 C706.3 878.2 710.4 878.2 714.5 877.9 C718.6 877.7 722.7 877.4 726.7 877.0 C730.8 876.6 734.9 876.1 738.9 875.5 C743.0 874.9 747.0 874.3 751.0 873.6 C755.0 872.8 759.0 872.0 763.0 871.1 C767.0 870.3 771.0 869.3 775.0 868.3 C778.9 867.3 782.9 866.2 786.8 865.0 C790.7 863.9 794.6 862.6 798.5 861.3 C802.3 859.9 806.1 858.4 809.9 856.8 C813.6 855.2 817.4 853.6 821.0 851.7 C824.7 849.9 828.3 848.0 831.8 845.8 C835.2 843.6 838.5 841.2 841.6 838.5 C844.7 835.9 847.6 832.9 850.2 829.8 C852.9 826.7 855.3 823.3 857.4 819.8 C859.4 816.3 861.3 812.6 862.7 808.8 C864.1 805.0 865.1 800.9 865.6 796.9 C866.1 792.9 866.2 788.7 865.6 784.7 C865.1 780.7 863.8 776.7 862.2 773.0 C860.6 769.2 858.5 765.6 856.2 762.3 C853.8 759.0 851.0 755.9 848.2 753.0 C845.4 750.1 842.3 747.3 839.1 744.7 C836.0 742.2 832.7 739.7 829.2 737.6 C825.7 735.4 822.1 733.6 818.4 731.8 C814.8 730.0 810.9 728.5 807.2 726.8" fill="none" stroke="#fbf3ee" stroke-width="1.19" />
<path d="M279.0 774.0 C278.4 776.7 277.0 779.2 277.3 782.0 C277.7 785.2 279.4 789.1 282.0 792.0 C285.2 795.6 290.8 798.5 296.0 801.0 C301.7 803.8 308.1 805.9 315.0 807.5 C322.7 809.3 329.8 810.1 340.0 810.8 C355.7 811.9 376.9 811.0 400.0 811.0 C431.6 811.1 473.4 811.0 512.0 811.0 C553.2 811.0 607.2 811.2 640.0 811.0 C660.5 810.9 677.3 812.1 690.0 810.4 C698.1 809.4 703.1 807.9 709.5 805.5 C716.1 803.0 723.2 799.2 729.0 795.7 C734.1 792.6 739.5 789.4 742.7 786.0 C745.1 783.4 746.0 780.7 747.6 778.0" fill="none" stroke="#fbf3ee" stroke-width="1.16" />
<path d="M466.0 608.0 C462.1 608.6 458.8 609.0 454.4 609.7 C448.3 610.7 440.1 611.6 433.0 613.4 C425.8 615.2 418.6 617.5 411.5 620.4 C404.2 623.4 396.8 627.7 390.0 631.1 C383.9 634.2 380.1 636.1 372.5 640.0 C358.1 647.3 331.0 661.1 310.0 671.7 C288.7 682.5 262.9 695.7 245.5 704.4 C233.8 710.3 226.3 713.4 216.0 719.0 C204.2 725.4 188.6 732.9 179.0 741.0 C171.4 747.4 165.4 754.4 161.5 761.5 C158.2 767.5 156.5 773.5 155.6 780.0 C154.7 786.8 154.6 794.4 156.6 801.5 C158.8 809.4 163.2 817.7 169.3 825.0 C176.5 833.6 187.5 841.3 198.6 848.4 C211.2 856.5 226.0 864.1 241.5 870.0 C258.3 876.4 278.7 881.4 296.0 884.5 C311.3 887.2 324.2 887.7 340.0 888.5 C358.4 889.4 376.9 888.9 400.0 889.0 C431.6 889.1 473.4 889.0 512.0 889.0 C553.2 889.0 603.0 889.6 640.0 889.0 C668.3 888.5 690.1 889.6 715.0 886.5 C740.1 883.3 767.9 877.5 790.0 870.0 C808.7 863.6 827.4 855.8 840.0 846.5 C849.7 839.4 857.0 831.7 862.0 822.5 C866.9 813.5 869.8 801.9 870.0 792.0 C870.2 782.7 868.1 773.0 864.0 765.0 C859.8 756.9 852.2 750.1 845.0 744.0 C837.6 737.7 829.3 734.0 820.0 728.0 C808.2 720.4 796.0 711.0 780.0 702.0 C758.2 689.7 726.7 676.2 700.0 663.3 C673.3 650.4 646.7 637.6 620.0 624.7" fill="none" stroke="#2a1d1d" stroke-width="1.29" />
<path d="M156.6 801.5 C158.9 809.3 159.0 817.5 163.4 825.0 C168.7 834.0 178.4 842.8 188.8 850.4 C201.1 859.4 217.2 867.4 233.8 873.8 C252.5 881.1 276.9 887.1 296.0 890.4 C311.8 893.1 324.2 893.4 340.0 894.0 C358.4 894.8 376.9 894.0 400.0 894.0 C431.6 894.0 473.4 894.0 512.0 894.0 C553.2 894.0 603.0 894.5 640.0 894.0 C668.3 893.6 690.1 895.0 715.0 892.0 C740.1 889.0 767.7 883.4 790.0 876.0 C809.3 869.6 828.7 861.7 842.0 852.0 C852.5 844.4 861.0 835.4 866.0 826.0 C870.3 817.9 870.0 808.7 872.0 800.0" fill="none" stroke="#2a1d1d" stroke-width="1.29" />
<path d="M265.0 704.9 C280.0 697.1 292.8 690.2 310.0 681.5 C332.8 670.0 371.8 651.2 390.0 642.4 C399.4 637.9 404.3 635.3 411.5 632.2 C418.6 629.2 425.8 626.5 433.0 624.2 C440.1 621.9 447.2 619.7 454.4 618.3 C461.5 616.9 468.5 616.2 475.9 615.6 C483.7 615.0 492.0 615.2 500.0 615.0" fill="none" stroke="#2a1d1d" stroke-width="1.12" />
<path d="M500.0 615.0 C510.0 615.2 520.0 615.0 530.0 615.6 C540.0 616.2 550.1 616.8 560.0 618.4 C570.1 620.1 580.1 622.7 590.0 625.5 C600.1 628.3 609.4 631.4 620.0 635.4 C632.5 640.1 646.8 646.2 660.0 652.5 C673.5 658.9 685.3 665.9 700.0 673.5 C717.8 682.8 739.5 693.8 759.3 704.0" fill="none" stroke="#5a2a22" stroke-width="1.03" />
<path d="M433.0 686.0 C440.1 682.4 447.1 678.1 454.4 675.2 C461.4 672.4 468.5 670.3 475.9 668.7 C483.6 667.0 491.5 665.9 500.0 665.4 C509.4 664.9 520.2 665.0 530.0 666.2 C539.7 667.4 549.3 668.9 558.6 672.3 C568.3 675.9 577.3 682.5 586.7 687.6" fill="none" stroke="#2a1d1d" stroke-width="1.38" />
<path d="M315.8 801.5 C309.2 799.6 302.0 798.4 296.0 795.7 C290.4 793.2 283.8 789.6 280.6 786.0 C278.4 783.5 276.6 780.6 276.7 778.0 C276.8 775.6 278.3 773.2 280.6 771.0 C284.4 767.3 292.3 764.9 300.0 761.0 C311.4 755.3 327.0 747.7 342.2 740.0 C360.1 730.9 386.1 718.2 400.7 710.0 C409.8 704.9 415.4 700.3 422.2 696.7 C427.9 693.6 432.9 691.7 438.3 689.2 C443.7 686.7 448.6 684.0 454.4 681.6 C461.0 678.9 468.4 675.8 475.9 674.1 C483.6 672.4 491.5 671.9 500.0 671.6 C509.4 671.2 520.1 671.5 530.0 672.3 C539.7 673.1 549.3 673.5 558.6 676.5 C568.3 679.6 576.9 685.9 586.7 691.0 C597.3 696.5 611.9 704.3 620.0 708.5 C624.6 710.9 626.3 711.7 631.0 714.0 C639.2 718.0 654.8 725.7 665.0 730.4 C673.2 734.2 679.9 736.7 687.3 740.4 C694.9 744.3 701.9 749.1 710.0 753.3 C719.0 758.0 732.6 763.3 738.8 767.0 C742.0 768.9 744.2 770.0 745.7 772.0 C747.0 773.7 748.1 775.9 748.0 778.0 C747.9 780.5 746.2 783.4 744.0 786.0 C741.0 789.5 735.3 793.3 730.0 796.0 C724.0 799.1 716.3 801.5 709.5 803.0 C703.0 804.4 696.5 804.3 690.0 805.0" fill="none" stroke="#2a1d1d" stroke-width="1.29" />
<path d="M279.5 779.5 C281.0 777.7 281.8 775.8 284.0 774.0 C287.5 771.1 293.1 769.0 300.0 765.5 C312.2 759.2 333.3 748.8 351.0 740.0 C370.3 730.4 396.5 717.6 411.5 710.0 C420.5 705.4 425.8 702.3 433.0 698.8 C440.1 695.4 447.2 692.2 454.4 689.2 C461.5 686.2 468.4 682.6 475.9 680.6 C483.6 678.6 491.5 677.8 500.0 677.3 C509.4 676.8 520.0 677.1 530.0 678.0 C540.0 678.9 550.3 679.5 560.0 682.8 C570.3 686.3 579.2 693.0 590.0 698.8 C602.6 705.4 617.9 713.9 631.0 720.4 C642.8 726.3 652.9 730.5 665.0 736.3 C679.0 743.0 697.5 752.3 710.0 758.5 C718.9 762.9 727.8 766.0 733.0 770.0 C736.3 772.6 737.7 775.3 740.0 778.0" fill="none" stroke="#2a1d1d" stroke-width="1.2" />
<path d="M315.8 801.5 L340.0 804.5 L400.0 805.0 L690.0 805.0" fill="none" stroke="#2a1d1d" stroke-width="1.29" />
<path d="M217.1 726.4 L265.0 704.9 L332.4 738.0 L286.5 759.6 L217.1 726.4" fill="none" stroke="#2a1d1d" stroke-width="1.03" />
<path d="M358.8 647.8 L437.8 689.7" fill="none" stroke="#2a1d1d" stroke-width="1.29" />
<path d="M586.7 688.8 L660.0 650.5" fill="none" stroke="#2a1d1d" stroke-width="1.55" />
<path d="M694.9 738.0 L759.3 704.0" fill="none" stroke="#2a1d1d" stroke-width="1.03" />
<path d="M262.5 919.0 C275.0 921.3 287.6 924.2 300.0 926.0 C312.1 927.8 322.3 929.2 336.0 930.0 C354.3 931.1 375.7 930.4 400.0 930.5 C432.1 930.6 472.3 930.5 512.0 930.5 C557.0 930.5 621.8 931.7 656.0 930.5 C674.9 929.9 685.7 929.1 700.0 927.5 C713.7 925.9 726.7 923.9 740.0 921.0 C753.4 918.1 767.6 914.3 780.0 910.0 C791.1 906.2 800.5 902.2 811.0 897.0 C822.5 891.3 836.0 885.0 846.0 877.0 C855.3 869.5 864.0 860.2 869.7 851.0 C874.7 842.8 878.4 833.2 879.5 825.0 C880.4 818.1 879.0 811.3 877.5 805.5 C876.2 800.4 874.5 795.1 871.6 791.8 C869.1 788.9 865.2 787.9 862.0 786.0" fill="none" stroke="#fbf3ee" stroke-width="1.16" />
<path d="M171.0 684.5 L245.7 646.5 L324.0 606.5 L405.0 565.0" fill="none" stroke="#fbf3ee" stroke-width="1.16" />
<path d="M405.0 565.0 C413.3 562.2 422.1 558.9 430.0 556.5 C437.0 554.3 442.6 552.6 450.0 551.0 C458.9 549.1 469.8 547.5 480.0 546.3 C490.5 545.1 501.9 544.2 512.0 544.0 C521.0 543.9 529.3 544.2 537.5 545.0 C545.3 545.8 552.0 546.9 560.0 548.5 C569.3 550.4 580.1 553.1 590.0 556.0 C600.1 558.9 612.5 563.1 620.0 566.0 C624.6 567.8 627.3 569.3 631.0 571.0" fill="none" stroke="#fbf3ee" stroke-width="1.16" />
<path d="M631.0 571.0 L700.0 606.5 L778.7 647.2 L827.9 670.0" fill="none" stroke="#fbf3ee" stroke-width="1.16" />
<path d="M245.7 646.5 L245.7 709.0" fill="none" stroke="#fbf3ee" stroke-width="1.16" />
<path d="M324.0 606.5 L324.0 670.0" fill="none" stroke="#fbf3ee" stroke-width="1.16" />
<path d="M405.5 565.0 L405.5 631.0" fill="none" stroke="#fbf3ee" stroke-width="1.16" />
<path d="M512.0 544.0 L512.0 705.0" fill="none" stroke="#fbf3ee" stroke-width="1.16" />
<path d="M619.0 566.0 L619.0 630.0" fill="none" stroke="#fbf3ee" stroke-width="1.16" />
<path d="M700.0 572.5 L700.0 671.0" fill="none" stroke="#fbf3ee" stroke-width="1.16" />
<path d="M779.0 647.2 L779.0 711.4" fill="none" stroke="#fbf3ee" stroke-width="1.16" />
<path d="M362.0 780.0 L512.0 705.0 L664.0 780.0" fill="none" stroke="#fbf3ee" stroke-width="1.16" />
<path d="M700.0 572.5 L791.9 620.0 L856.0 652.5" fill="none" stroke="#fbf3ee" stroke-width="1.16" />
<path d="M891.5 635.8 L827.9 668.3 L779.5 692.0" fill="none" stroke="#fbf3ee" stroke-width="1.16" />
<path d="M878.9 642.9 L878.9 652.5 L830.5 676.2 L781.3 700.0" fill="none" stroke="#fbf3ee" stroke-width="1.16" />
<path d="M827.9 668.3 L827.9 677.0" fill="none" stroke="#fbf3ee" stroke-width="1.16" />
<path d="M878.9 674.5 L806.8 711.4" fill="none" stroke="#fbf3ee" stroke-width="1.16" />
<path d="M866.9 657.8 L866.9 774.7" fill="none" stroke="#fbf3ee" stroke-width="1.16" />
<path d="M781.3 700.0 L829.6 727.2" fill="none" stroke="#fbf3ee" stroke-width="1.16" />
<path d="M891.5 635.8 L891.5 802.5" fill="none" stroke="#fbf3ee" stroke-width="1.16" />
<path d="M891.5 635.8 L895.0 635.8" fill="none" stroke="#fbf3ee" stroke-width="0.92" />
<path d="M136.0 636.4 L133.3 636.4 L133.3 835.0 L97.5 853.8 L315.0 963.0 L450.0 963.0" fill="none" stroke="#fbf3ee" stroke-width="1.16" />
<path d="M323.8 805.0 L323.8 963.0" fill="none" stroke="#fbf3ee" stroke-width="1.16" />
<path d="M323.8 938.8 L400.0 938.8 L450.0 963.0" fill="none" stroke="#fbf3ee" stroke-width="1.16" />
<path d="M156.2 690.0 L156.2 787.0" fill="none" stroke="#fbf3ee" stroke-width="1.0" />
<path d="M341 780 L497.5 780 L497.5 784 C497.5 796 525 796 525 784 L525 780 L685 780" fill="none" stroke="#fbf3ee" stroke-width="1.5"/>
<path d="M441.0 780.0 L438.2 887.5" fill="none" stroke="#fbf3ee" stroke-width="1.16" />
<path d="M438.6 890.0 L438.6 919.0" fill="none" stroke="#fbf3ee" stroke-width="1.16" />
<path d="M511.8 787.5 L511.8 887.5" fill="none" stroke="#fbf3ee" stroke-width="1.16" />
<path d="M582.0 780.0 L585.5 887.0" fill="none" stroke="#fbf3ee" stroke-width="1.16" />
<path d="M585.0 890.0 L585.0 919.0" fill="none" stroke="#fbf3ee" stroke-width="1.16" />
<path d="M647.5 812.5 L666.0 886.0" fill="none" stroke="#fbf3ee" stroke-width="1.16" />
<path d="M376.0 811.0 L355.5 887.0" fill="none" stroke="#fbf3ee" stroke-width="1.16" />
<path d="M700.0 796.0 L700.0 919.5" fill="none" stroke="#fbf3ee" stroke-width="1.16" />
<path d="M204.0 842.0 L214.0 837.5" fill="none" stroke="#fbf3ee" stroke-width="1.0" />
<path d="M145.6 806.5 C146.4 804.2 146.9 801.6 148.0 799.5 C149.0 797.5 150.5 795.7 151.9 794.0 C153.3 792.4 154.8 790.7 156.5 789.5 C158.2 788.4 160.2 787.8 162.0 787.0" fill="none" stroke="#fbf3ee" stroke-width="0.85" />
<path d="M143.4 674.0 L143.4 805.0" fill="none" stroke="#2a1d1d" stroke-width="1.38" />
<path d="M336.7 587.5 L336.7 664.0" fill="none" stroke="#2a1d1d" stroke-width="1.38" />
<path d="M393.1 618.0 L393.1 762.5" fill="none" stroke="#2a1d1d" stroke-width="1.38" />
<path d="M358.7 731.0 L358.7 779.0" fill="none" stroke="#2a1d1d" stroke-width="1.38" />
<path d="M631.2 569.0 L631.2 762.5" fill="none" stroke="#2a1d1d" stroke-width="1.38" />
<path d="M665.2 732.0 L665.2 780.0" fill="none" stroke="#2a1d1d" stroke-width="1.38" />
<path d="M829.6 643.0 L829.6 727.2" fill="none" stroke="#2a1d1d" stroke-width="1.38" />
<path d="M880.6 658.7 L880.6 796.0" fill="none" stroke="#1f1a1a" stroke-width="1.03" />
<path d="M151.2 684.0 L204.4 712.2" fill="none" stroke="#2a1d1d" stroke-width="1.12" />
<path d="M144.2 674 L190 698.3" stroke="#2a1d1d" stroke-width="5" stroke-linecap="round" fill="none"/>
<path d="M144.2 674 L190 698.3" stroke="#f4eee9" stroke-width="2.9" stroke-linecap="round" fill="none"/>
<path d="M190.3 696.3 L196.8 699.8 L196.8 707.2 L190.6 704Z" fill="#b9d240" stroke="#2a1d1d" stroke-width="0.8"/>
<path d="M197.3 699.8 L205.4 704 L205.4 712.4 L197.3 708Z" fill="#f7bcc4" stroke="#2a1d1d" stroke-width="0.9"/>
<path d="M336.7 592.2 L392.9 622.1" fill="none" stroke="#2a1d1d" stroke-width="1.12" />
<path d="M336.7 587.8 L336.7 594.0" fill="none" stroke="#2a1d1d" stroke-width="1.12" />
<path d="M331.6 580.6 L385 608.6" stroke="#2a1d1d" stroke-width="5" stroke-linecap="round" fill="none"/>
<path d="M331.6 580.6 L385 608.6" stroke="#f4eee9" stroke-width="2.9" stroke-linecap="round" fill="none"/>
<path d="M385.5 607.6 L393.4 612.3 L393.4 621.6 L385.9 617.5Z" fill="#f08c80" stroke="#2a1d1d" stroke-width="1"/>
<path d="M387.4 611.2 L391.6 613.8 L391.6 618.6 L387.6 616.4Z" fill="#fbe3dd"/>
<path d="M323.2 711.3 L328.6 707.9 L358.3 723.5 L352.5 726.9Z" fill="#e8503f"/>
<path d="M323.2 711.3 L328.6 707.9 L358.3 723.5" fill="none" stroke="#2a1d1d" stroke-width="1"/>
<path d="M357.4 667 L358.6 664.2 L368.4 658.9 L374.6 659.2 L377.4 662.2 L377.2 669.8 L369.1 674.8 L363.2 670.4 L358.8 669.9Z" fill="#ee5b42" stroke="#ee5b42" stroke-width="0.8" stroke-linejoin="round"/>
<path d="M363.2 670.4 L368.6 667 L368.6 674.4Z" fill="#d9472f"/>
<path d="M368.6 667 L368.6 674.2" stroke="#f9e9c8" stroke-width="0.8"/>
<ellipse cx="389" cy="805" rx="9.6" ry="6.6" fill="#c8dc42" stroke="#2a1d1d" stroke-width="1.4"/>
<path d="M380 805 L398 805" stroke="#7d8f2a" stroke-width="1" />
<ellipse cx="528.75" cy="805" rx="9.6" ry="6.6" fill="#c8dc42" stroke="#2a1d1d" stroke-width="1.4"/>
<path d="M519.75 805 L537.75 805" stroke="#7d8f2a" stroke-width="1" />
<ellipse cx="633.75" cy="805" rx="9.6" ry="6.6" fill="#c8dc42" stroke="#2a1d1d" stroke-width="1.4"/>
<path d="M624.75 805 L642.75 805" stroke="#7d8f2a" stroke-width="1" />
<ellipse cx="250.5" cy="823.2" rx="3.4" ry="1.8" fill="none" stroke="#fbf3ee" stroke-width="0.9" transform="rotate(-14 250.5 823.2)"/>
<ellipse cx="273" cy="814.4" rx="4.2" ry="2.1" fill="none" stroke="#fbf3ee" stroke-width="0.9" transform="rotate(-14 273 814.4)"/>
<ellipse cx="234.4" cy="830.3" rx="2.6" ry="1.3" fill="none" stroke="#fbf3ee" stroke-width="0.8" transform="rotate(-14 234.4 830.3)"/>
<path d="M283.5 804.5 q3 1.8 6 -0.6 q2.5 -1.6 5.2 -0.4" fill="none" stroke="#fbf3ee" stroke-width="0.9"/>
<text x="137" y="644.2" font-size="9.4" fill="#fbf3ee" font-weight="normal" >P1</text>
<text x="115.6" y="717.3" font-size="10.5" fill="#fbf3ee" font-weight="normal" >22'</text>
<text x="136" y="809" font-size="9.5" fill="#fbf3ee" font-weight="normal" >6V</text>
<text x="225.6" y="679" font-size="10.5" fill="#2a1d1d" font-weight="bold" textLength="43.5" lengthAdjust="spacingAndGlyphs">EE&#8835;-&#8597;28</text>
<text x="284" y="705.5" font-size="7.5" fill="#fbf3ee" font-weight="normal" >a2</text>
<text x="322.5" y="794" font-size="8.2" fill="#fbf3ee" font-weight="normal" >AS</text>
<text x="549" y="564" font-size="11" fill="#fbf3ee" font-weight="normal" >48&lt;1&#8250;28</text>
<text x="632.5" y="604" font-size="10.5" fill="#fbf3ee" font-weight="normal" >28</text>
<text x="755.8" y="678.3" font-size="10.5" fill="#fbf3ee" font-weight="normal" >0E&#8976; 4A2</text>
<text x="896.4" y="644" font-size="9" fill="#fbf3ee" font-weight="normal" >F1</text>
<text x="894.7" y="717.6" font-size="11" fill="#fbf3ee" font-weight="normal" >28</text>
<text x="881.5" y="809.5" font-size="9.2" fill="#fbf3ee" font-weight="normal" >16</text>
<text x="694" y="794" font-size="8.5" fill="#fbf3ee" font-weight="normal" >11</text>
<text x="356.8" y="955.9" font-size="11.2" fill="#2a1d1d" font-weight="bold" textLength="38.2" lengthAdjust="spacingAndGlyphs">AGC98</text>
<path d="M730.5 700.5 l2.5 -1.8 l2.2 1.6 l-1.2 2.6 l2.8 1.4 l1.6 -2.4 M735 699.5 l2.4 -1.2 M734 703 l-2.2 2.6 l2.6 1.4 M738 704.5 l1.8 2.4" fill="none" stroke="#fbf3ee" stroke-width="1.1" stroke-linecap="round"/>
<path d="M726.5 803.5 l3.5 -4 l4 2 M729 798 l3 -1.2 M745.0 805.7 q-6.5 -1.5 -7 2 q-0.2 3.2 5.5 3.6 M741.0 808.8 l3.5 0.8 M756.0 811.2 q-6.5 -1.5 -7 2 q-0.2 3.2 5.5 3.6 M752.0 814.3 l3.5 0.8 M766.5 816.7 q-6.5 -1.5 -7 2 q-0.2 3.2 5.5 3.6 M762.5 819.8 l3.5 0.8 M770.5 821.5 q7 0.5 7 3.5 q-0.5 3 -6 2.2 M783.5 829 l8 1.2 l3 5.2 l-8.5 -1z M795.8 835.7 L819 842.5 M810 837.5 l-0.6 4" fill="none" stroke="#fbf3ee" stroke-width="1.1" stroke-linecap="round" stroke-linejoin="round"/>
</svg>
</body>
</html>
